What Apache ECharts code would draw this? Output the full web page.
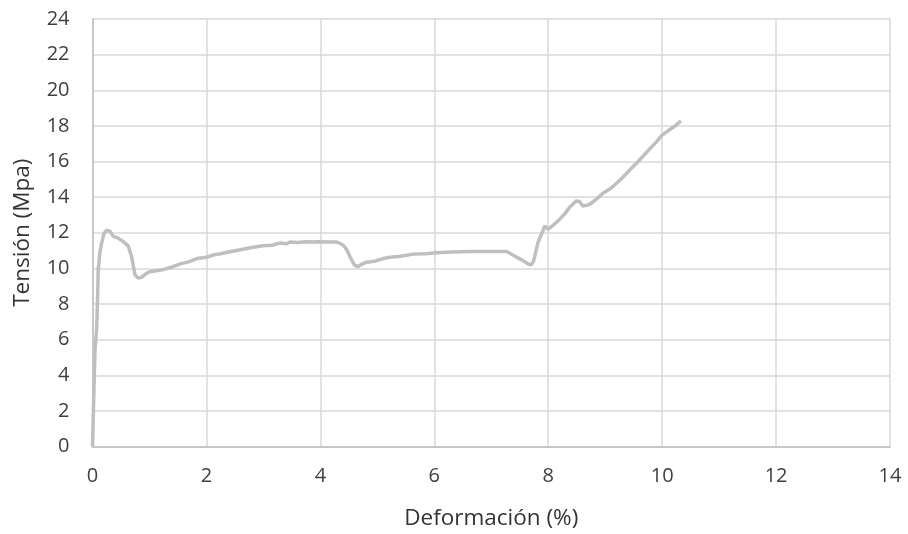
<!DOCTYPE html>
<html>
<head>
<meta charset="utf-8">
<script src="https://cdn.jsdelivr.net/npm/echarts@6/dist/echarts.min.js"></script>
<style>
  html, body { margin: 0; padding: 0; background: #ffffff; }
  #chart { width: 908px; height: 534px; }
</style>
</head>
<body>
<div id="chart"></div>
<script>
// Stress–strain curve: strain (%) and stress (MPa)
const strain = [
  0.00, 0.01, 0.03, 0.044, 0.06, 0.073, 0.09, 0.10, 0.13, 0.16, 0.20, 0.25, 0.31, 0.365, 0.45,
  0.54, 0.63, 0.69, 0.745, 0.80, 0.86, 0.93, 1.01, 1.10, 1.24, 1.40, 1.54, 1.70, 1.83,
  2.00, 2.12, 2.25, 2.41, 2.55, 2.71, 2.85, 3.00, 3.15, 3.29, 3.40, 3.47, 3.60, 3.75,
  3.85, 3.99, 4.15, 4.29, 4.38, 4.43, 4.48, 4.52, 4.57, 4.60, 4.66, 4.72, 4.81, 4.95,
  5.10, 5.22, 5.40, 5.63, 5.85, 6.04, 6.30, 6.63, 6.90, 7.10, 7.27, 7.38, 7.45, 7.55,
  7.65, 7.70, 7.74, 7.78, 7.82, 7.88, 7.94, 8.00, 8.03, 8.10, 8.20, 8.30, 8.38, 8.49,
  8.55, 8.61, 8.68, 8.73, 8.85, 8.96, 9.08, 9.20, 9.32, 9.43, 9.55, 9.66, 9.78, 9.90,
  9.99, 10.06, 10.13, 10.22, 10.33
];
const stress = [
  0.00, 1.20, 3.80, 5.40, 6.10, 6.60, 8.40, 9.90, 10.90, 11.42, 11.95, 12.15, 12.08, 11.80, 11.70,
  11.50, 11.25, 10.60, 9.65, 9.45, 9.50, 9.68, 9.82, 9.85, 9.93, 10.08, 10.25, 10.38, 10.55,
  10.62, 10.75, 10.82, 10.93, 11.02, 11.12, 11.20, 11.27, 11.30, 11.42, 11.38, 11.48, 11.45, 11.50,
  11.48, 11.50, 11.48, 11.48, 11.35, 11.20, 10.95, 10.65, 10.35, 10.18, 10.10, 10.22, 10.35, 10.40,
  10.55, 10.62, 10.68, 10.80, 10.82, 10.88, 10.92, 10.95, 10.95, 10.95, 10.95, 10.75, 10.62, 10.45,
  10.25, 10.20, 10.38, 10.90, 11.45, 11.90, 12.38, 12.20, 12.25, 12.45, 12.75, 13.10, 13.45, 13.78,
  13.75, 13.50, 13.55, 13.60, 13.90, 14.22, 14.45, 14.78, 15.15, 15.52, 15.90, 16.28, 16.70, 17.10,
  17.45, 17.62, 17.78, 17.98, 18.28
];

// Axis ranges and tick spacing
const xTicks = { min: 0, max: 14, step: 2 };
const yTicks = { min: 0, max: 24, step: 2 };
const xTitle = 'Deformación (%)';
const yTitle = 'Tensión (Mpa)';

const points = strain.map((x, i) => [x, stress[i]]);

const font = '"Open Sans", "Noto Sans", "Liberation Sans", sans-serif';
const chart = echarts.init(document.getElementById('chart'), null, { renderer: 'canvas' });

chart.setOption({
  backgroundColor: '#ffffff',
  animation: false,
  grid: {
    left: 92.5, right: 18, top: 19, bottom: 87.5,
    containLabel: false,
    outerBoundsMode: 'none'
  },
  xAxis: {
    type: 'value',
    min: xTicks.min, max: xTicks.max, interval: xTicks.step,
    name: xTitle,
    nameLocation: 'middle',
    nameGap: 61,
    nameTextStyle: { color: '#333333', fontSize: 22.5, fontFamily: font },
    axisLine: { show: true, lineStyle: { color: '#BFBFBF', width: 1.5 } },
    axisTick: { show: false },
    axisLabel: { color: '#404040', fontSize: 20, fontFamily: font, margin: 20 },
    splitLine: { show: true, lineStyle: { color: '#D9D9D9', width: 1.5 } }
  },
  yAxis: {
    type: 'value',
    min: yTicks.min, max: yTicks.max, interval: yTicks.step,
    name: yTitle,
    nameLocation: 'middle',
    nameGap: 58,
    nameRotate: 90,
    nameTextStyle: { color: '#333333', fontSize: 22.5, fontFamily: font },
    axisLine: { show: true, lineStyle: { color: '#BFBFBF', width: 1.5 } },
    axisTick: { show: false },
    axisLabel: { color: '#404040', fontSize: 20, fontFamily: font, margin: 23 },
    splitLine: { show: true, lineStyle: { color: '#D9D9D9', width: 1.5 } }
  },
  series: [{
    type: 'line',
    data: points,
    showSymbol: false,
    smooth: false,
    lineStyle: { color: '#BFBFBF', width: 3.5 },
    itemStyle: { color: '#BFBFBF' }
  }]
});
</script>
</body>
</html>
